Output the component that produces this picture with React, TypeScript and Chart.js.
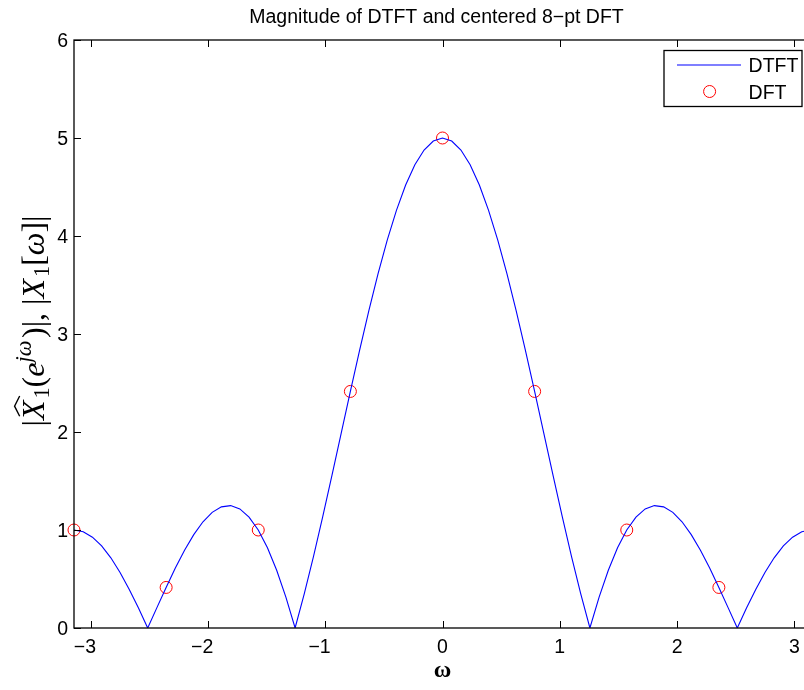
import React, { useEffect, useRef } from "react";
import { Chart, registerables } from "chart.js";

Chart.register(...registerables);

// ---------- data ----------
const omega = [
  -3.1416, -3.0631, -2.9845, -2.906, -2.8274, -2.7489, -2.6704, -2.5918, -2.5133, -2.4347,
  -2.3562, -2.2777, -2.1991, -2.1206, -2.042, -1.9635, -1.885, -1.8064, -1.7279, -1.6493,
  -1.5708, -1.4923, -1.4137, -1.3352, -1.2566, -1.1781, -1.0996, -1.021, -0.9425, -0.8639,
  -0.7854, -0.7069, -0.6283, -0.5498, -0.4712, -0.3927, -0.3142, -0.2356, -0.1571, -0.0785,
  0,
  0.0785, 0.1571, 0.2356, 0.3142, 0.3927, 0.4712, 0.5498, 0.6283, 0.7069, 0.7854,
  0.8639, 0.9425, 1.021, 1.0996, 1.1781, 1.2566, 1.3352, 1.4137, 1.4923, 1.5708,
  1.6493, 1.7279, 1.8064, 1.885, 1.9635, 2.042, 2.1206, 2.1991, 2.2777, 2.3562,
  2.4347, 2.5133, 2.5918, 2.6704, 2.7489, 2.8274, 2.906, 2.9845, 3.0631, 3.1416,
];
const dtftMag = [
  1, 0.982, 0.927, 0.837, 0.716, 0.566, 0.394, 0.203, 0, 0.208,
  0.414, 0.612, 0.794, 0.953, 1.084, 1.18, 1.236, 1.249, 1.215, 1.132,
  1, 0.818, 0.589, 0.315, 0, 0.351, 0.732, 1.137, 1.558, 1.986,
  2.414, 2.834, 3.236, 3.613, 3.958, 4.262, 4.52, 4.727, 4.877, 4.969,
  5,
  4.969, 4.877, 4.727, 4.52, 4.262, 3.958, 3.613, 3.236, 2.834, 2.414,
  1.986, 1.558, 1.137, 0.732, 0.351, 0, 0.315, 0.589, 0.818, 1,
  1.132, 1.215, 1.249, 1.236, 1.18, 1.084, 0.953, 0.794, 0.612, 0.414,
  0.208, 0, 0.203, 0.394, 0.566, 0.716, 0.837, 0.927, 0.982, 1,
];
const dftOmega = [-3.1416, -2.3562, -1.5708, -0.7854, 0, 0.7854, 1.5708, 2.3562];
const dftMag = [1, 0.414, 1, 2.414, 5, 2.414, 1, 0.414];

const xMin = -3.1416;
const xMax = 3.1416;
const yMin = 0;
const yMax = 6;
const xTicks = [-3, -2, -1, 0, 1, 2, 3];
const xTickLabels = ["\u22123", "\u22122", "\u22121", "0", "1", "2", "3"];
const yTicks = [0, 1, 2, 3, 4, 5, 6];
const yTickLabels = ["0", "1", "2", "3", "4", "5", "6"];
const seriesNames = ["DTFT", "DFT"];
const titleText = "Magnitude of DTFT and centered 8\u2212pt DFT";
const xLabel = "\u03c9";

// ---------- styles ----------
const SANS = '"Liberation Sans", Arial, Helvetica, sans-serif';
const SERIF = '"Liberation Serif", "Times New Roman", serif';
const FS = 19.5;

function drawYLabel(ctx: CanvasRenderingContext2D, baseX: number, centerY: number) {
  const S = 32;
  type Run = { t: string; it?: boolean; sc?: number; dy?: number; hat?: boolean; post?: number };
  const runs: Run[] = [
    { t: "|" },
    { t: "X", it: true, hat: true, post: 0.06 },
    { t: "1", sc: 0.7, dy: 0.15 },
    { t: "(" },
    { t: "e", it: true },
    { t: "j\u03c9", it: true, sc: 0.7, dy: -0.4, post: 0.08 },
    { t: ")" },
    { t: "|" },
    { t: "," },
    { t: " " },
    { t: "|" },
    { t: "X", it: true, post: 0.06 },
    { t: "1", sc: 0.7, dy: 0.15 },
    { t: "[" },
    { t: "\u03c9", it: true },
    { t: "]" },
    { t: "|" },
  ];
  const fontOf = (r: Run) => `${r.it ? "italic " : ""}${(r.sc ?? 1) * S}px ${SERIF}`;
  let total = 0;
  const widths = runs.map((r) => {
    ctx.font = fontOf(r);
    const w = ctx.measureText(r.t).width + (r.post ?? 0) * S;
    total += w;
    return w;
  });
  ctx.save();
  ctx.translate(baseX, centerY);
  ctx.rotate(-Math.PI / 2);
  ctx.textAlign = "left";
  ctx.textBaseline = "alphabetic";
  ctx.fillStyle = "#000";
  let x = -total / 2;
  runs.forEach((r, i) => {
    ctx.font = fontOf(r);
    ctx.fillText(r.t, x, (r.dy ?? 0) * S);
    if (r.hat) {
      const w = widths[i];
      ctx.beginPath();
      ctx.lineWidth = 1.4;
      ctx.strokeStyle = "#000";
      ctx.moveTo(x + 0.12 * S, -0.76 * S);
      ctx.lineTo(x + w / 2 + 0.1 * S, -0.92 * S);
      ctx.lineTo(x + w + 0.08 * S, -0.76 * S);
      ctx.stroke();
    }
    x += widths[i];
  });
  ctx.restore();
}

const overlayPlugin = {
  id: "matlabOverlay",
  afterDraw(chart: any) {
    const ctx: CanvasRenderingContext2D = chart.ctx;
    const { left, right, top, bottom } = chart.chartArea;
    const xs = chart.scales.x;
    const ys = chart.scales.y;
    ctx.save();

    // axes box
    ctx.strokeStyle = "#000";
    ctx.lineWidth = 1.3;
    ctx.strokeRect(left, top, right - left, bottom - top);

    // inward ticks
    ctx.lineWidth = 1;
    ctx.beginPath();
    xTicks.forEach((v) => {
      const px = Math.round(xs.getPixelForValue(v)) + 0.5;
      ctx.moveTo(px, bottom);
      ctx.lineTo(px, bottom - 7);
      ctx.moveTo(px, top);
      ctx.lineTo(px, top + 7);
    });
    yTicks.forEach((v) => {
      const py = Math.round(ys.getPixelForValue(v)) + 0.5;
      ctx.moveTo(left, py);
      ctx.lineTo(left + 7, py);
      ctx.moveTo(right, py);
      ctx.lineTo(right - 7, py);
    });
    ctx.stroke();

    // tick labels
    ctx.fillStyle = "#000";
    ctx.font = `${FS}px ${SANS}`;
    ctx.textBaseline = "alphabetic";
    ctx.textAlign = "right";
    xTicks.forEach((v, i) => {
      const lab = xTickLabels[i];
      const dw = ctx.measureText(lab.slice(-1)).width;
      ctx.fillText(lab, xs.getPixelForValue(v) + dw / 2, bottom + 25);
    });
    yTicks.forEach((v, i) => {
      ctx.fillText(yTickLabels[i], left - 6, ys.getPixelForValue(v) + 7);
    });

    // title
    ctx.textAlign = "center";
    ctx.fillText(titleText, (left + right) / 2 - 6, 23);

    // x label
    ctx.font = `bold 24px ${SERIF}`;
    ctx.fillText(xLabel, (left + right) / 2, 677);

    // y label
    drawYLabel(ctx, 44, (top + bottom) / 2 - 13);

    // legend
    const bw = 138;
    const bh = 56;
    const bx = right - 9 - bw;
    const by = top + 10.5;
    ctx.fillStyle = "#fff";
    ctx.fillRect(bx, by, bw, bh);
    ctx.strokeStyle = "#000";
    ctx.lineWidth = 1.3;
    ctx.strokeRect(bx, by, bw, bh);
    const ds = chart.data.datasets;
    const row1 = by + 14.5;
    const row2 = by + 41;
    ctx.beginPath();
    ctx.strokeStyle = ds[0].borderColor;
    ctx.lineWidth = 1.2;
    ctx.moveTo(bx + 13, row1);
    ctx.lineTo(bx + 77, row1);
    ctx.stroke();
    ctx.beginPath();
    ctx.strokeStyle = ds[1].borderColor;
    ctx.lineWidth = 1;
    ctx.arc(bx + 45.6, row2, 6, 0, Math.PI * 2);
    ctx.stroke();
    ctx.fillStyle = "#000";
    ctx.font = `${FS}px ${SANS}`;
    ctx.textAlign = "left";
    ctx.fillText(ds[0].label, bx + 84.6, row1 + 7);
    ctx.fillText(ds[1].label, bx + 84.6, row2 + 7);

    ctx.restore();
  },
};

export default function App() {
  const canvasRef = useRef<HTMLCanvasElement | null>(null);

  useEffect(() => {
    const canvas = canvasRef.current;
    if (!canvas) return;
    const chart = new Chart(canvas, {
      type: "scatter",
      data: {
        datasets: [
          {
            label: seriesNames[0],
            data: omega.map((x, i) => ({ x, y: dtftMag[i] })),
            showLine: true,
            borderColor: "#0000ff",
            backgroundColor: "#0000ff",
            borderWidth: 1.1,
            pointRadius: 0,
            tension: 0,
          },
          {
            label: seriesNames[1],
            data: dftOmega.map((x, i) => ({ x, y: dftMag[i] })),
            showLine: false,
            borderColor: "#ff0000",
            backgroundColor: "rgba(0,0,0,0)",
            borderWidth: 1,
            pointRadius: 6,
            pointStyle: "circle",
            clip: false,
          } as any,
        ],
      },
      options: {
        responsive: false,
        animation: false,
        devicePixelRatio: 1,
        layout: { padding: { left: 74, right: 19, top: 40, bottom: 62 } },
        plugins: {
          legend: { display: false },
          title: { display: false },
          tooltip: { enabled: false },
        },
        scales: {
          x: {
            type: "linear",
            min: xMin,
            max: xMax,
            ticks: { display: false },
            grid: { display: false, drawTicks: false },
            border: { display: false },
            afterFit: (s: any) => {
              s.height = 0;
            },
          },
          y: {
            type: "linear",
            min: yMin,
            max: yMax,
            ticks: { display: false },
            grid: { display: false, drawTicks: false },
            border: { display: false },
            afterFit: (s: any) => {
              s.width = 0;
            },
          },
        },
      },
      plugins: [overlayPlugin],
    });
    return () => chart.destroy();
  }, []);

  return (
    <div
      style={{
        position: "fixed",
        left: 0,
        top: 0,
        width: 804,
        height: 690,
        overflow: "hidden",
        background: "#fff",
      }}
    >
      <canvas
        ref={canvasRef}
        width={830}
        height={690}
        style={{ display: "block", width: 830, height: 690 }}
      />
    </div>
  );
}
